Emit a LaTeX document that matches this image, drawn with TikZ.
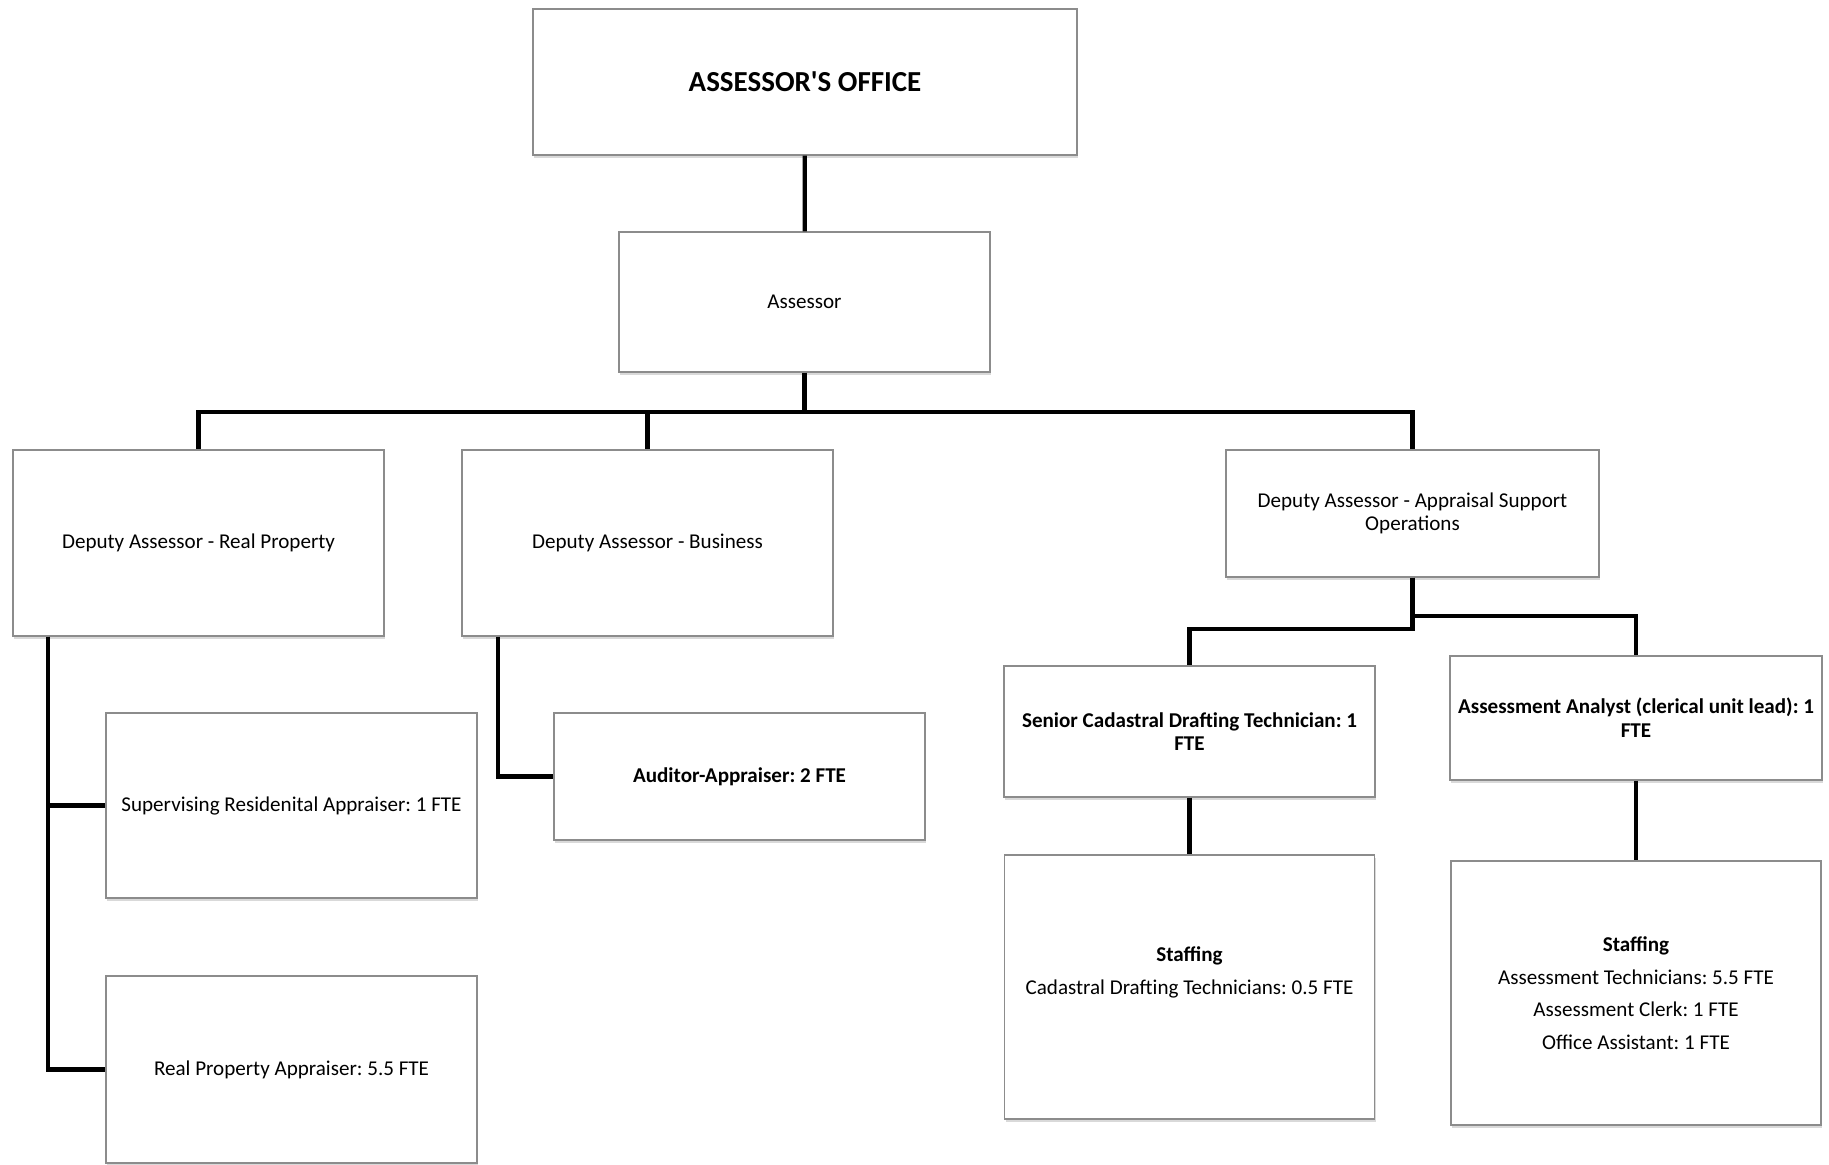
\documentclass[tikz,border=0pt]{standalone}
\usepackage{fontspec}
\setmainfont{Carlito}
\usetikzlibrary{calc,shadows}
\definecolor{boxline}{HTML}{8C8C8C}
\frenchspacing

\begin{document}
\begin{tikzpicture}[x=0.02cm,y=-0.02cm]
	\tikzset{box/.style = {draw=boxline, line width=.8pt, fill=white, align=center, inner sep=1pt,
	    font=\fontsize{12}{13.5}\selectfont,
	    drop shadow={shadow xshift=.8pt,shadow yshift=-1.6pt,opacity=.3}}}
	\tikzset{link/.style = {line width=2.4pt}}
	\useasboundingbox (0,0) rectangle (1829,1164);

	% boxes
	\node[box, minimum width=10.88cm, minimum height=2.92cm, font=\fontsize{16.5}{19}\selectfont\bfseries] (office) at (805,82) {ASSESSOR\textquotesingle S OFFICE};
	\node[box, minimum width=7.42cm, minimum height=2.80cm] (assessor) at (804.5,302) {Assessor};
	\node[box, minimum width=7.42cm, minimum height=3.72cm] (dRP) at (198.5,543) {Deputy Assessor - Real Property};
	\node[box, minimum width=7.42cm, minimum height=3.72cm] (dBus) at (647.5,543) {Deputy Assessor - Business};
	\node[box, minimum width=7.46cm, minimum height=2.54cm] (dASO) at (1412.5,513.5) {Deputy Assessor - Appraisal Support\\Operations};
	\node[box, minimum width=7.42cm, minimum height=3.70cm] (superv) at (291.5,805.5) {Supervising Residenital Appraiser: 1 FTE};
	\node[box, minimum width=7.42cm, minimum height=3.74cm] (rpa) at (291.5,1069.5) {Real Property Appraiser: 5.5 FTE};
	\node[box, minimum width=7.42cm, minimum height=2.54cm, font=\fontsize{12}{13.5}\selectfont\bfseries] (auditor) at (739.5,776.5) {Auditor-Appraiser: 2 FTE};
	\node[box, minimum width=7.42cm, minimum height=2.62cm, font=\fontsize{12}{13.5}\selectfont\bfseries] (senior) at (1189.5,731.5) {Senior Cadastral Drafting Technician: 1\\FTE};
	\node[box, minimum width=7.44cm, minimum height=2.48cm, font=\fontsize{12}{13.5}\selectfont\bfseries] (analyst) at (1636,718) {Assessment Analyst (clerical unit lead): 1\\FTE};
	\node[box, minimum width=7.40cm, minimum height=5.28cm] (staff1) at (1189.5,987) {\textbf{Staffing}\\[5pt]Cadastral Drafting Technicians: 0.5 FTE\\[5pt]\mbox{}};
	\node[box, minimum width=7.40cm, minimum height=5.28cm] (staff2) at (1636,993) {\textbf{Staffing}\\[5pt]Assessment Technicians: 5.5 FTE\\[5pt]Assessment Clerk: 1 FTE\\[5pt]Office Assistant: 1 FTE};

	% links
	\coordinate (bus) at ($(assessor.south)+(0,39)$);
	\draw[link] (office) -- (assessor);
	\draw[link] (assessor.south) -- (bus);
	\draw[link] (bus) -| (dRP.north);
	\draw[link] (bus) -| (dBus.north);
	\draw[link] (bus) -| (dASO.north);
	\draw[link] ($(dRP.south west)+(36,0)$) |- (rpa.west);
	\draw[link] ($(dRP.south west)+(36,0)$) |- (superv.west);
	\draw[link] ($(dBus.south west)+(37,0)$) |- (auditor.west);
	\draw[link] (dASO.south) -- ++(0,38) -| (analyst.north);
	\draw[link] (dASO.south) -- ++(0,51) -| (senior.north);
	\draw[link] (senior.south) -- (staff1.north);
	\draw[link] (analyst.south) -- (staff2.north);
\end{tikzpicture}
\end{document}
